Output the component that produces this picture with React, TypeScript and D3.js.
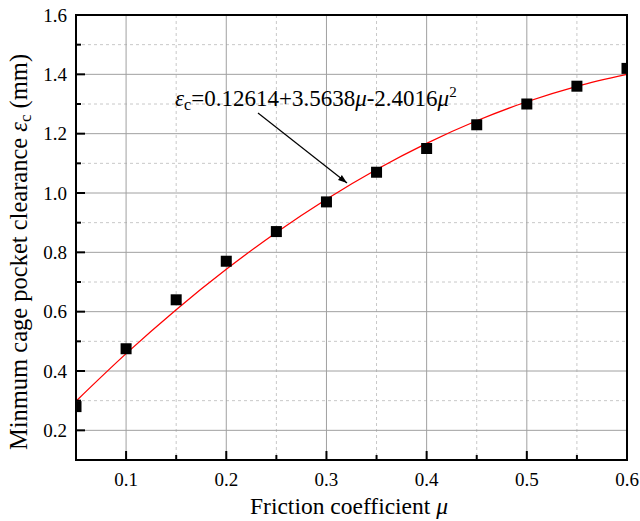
import React from "react";
import * as d3 from "d3";

const muValues = [0.05, 0.1, 0.15, 0.2, 0.25, 0.3, 0.35, 0.4, 0.45, 0.5, 0.55, 0.6];
const clearanceValues = [0.28, 0.475, 0.64, 0.77, 0.87, 0.97, 1.07, 1.15, 1.23, 1.30, 1.36, 1.42];
const fitValues = [0.2983, 0.4585, 0.6067, 0.7428, 0.867, 0.9791, 1.0793, 1.1674, 1.2435, 1.3076, 1.3598, 1.3998];
const xMajorTicks = [0.1, 0.2, 0.3, 0.4, 0.5, 0.6];
const xMinorTicks = [0.05, 0.15, 0.25, 0.35, 0.45, 0.55];
const yMajorTicks = [0.2, 0.4, 0.6, 0.8, 1.0, 1.2, 1.4, 1.6];
const yMinorTicks = [0.1, 0.3, 0.5, 0.7, 0.9, 1.1, 1.3, 1.5];

const W = 640, H = 521;
const L = 76, R = 627, T = 15, B = 460;

export default function App() {
  const x = d3.scaleLinear().domain([0.05, 0.6]).range([L, R]);
  const y = d3.scaleLinear().domain([0.1, 1.6]).range([B, T]);
  const line = d3
    .line<number>()
    .x((_, i) => x(muValues[i]))
    .y((d) => y(d))
    .curve(d3.curveMonotoneX);
  const font = "'Liberation Serif', 'Times New Roman', serif";
  const ms = 11;
  return (
    <svg width={W} height={H} style={{ position: "absolute", left: 0, top: 0 }} fontFamily={font}>
      <rect width={W} height={H} fill="#fff" />
      <defs>
        <clipPath id="plot">
          <rect x={L} y={T} width={R - L} height={B - T} />
        </clipPath>
        <marker id="arr" viewBox="0 0 10 10" refX="10" refY="5" markerWidth="9" markerHeight="9" orient="auto" markerUnits="userSpaceOnUse">
          <path d="M0,1.5 L10,5 L0,8.5 Z" fill="#000" />
        </marker>
      </defs>
      {xMinorTicks.map((t) => (
        <line key={"xm" + t} x1={x(t)} x2={x(t)} y1={T} y2={B} stroke="#c8c8c8" strokeDasharray="3,3" strokeWidth={1} />
      ))}
      {yMinorTicks.map((t) => (
        <line key={"ym" + t} x1={L} x2={R} y1={y(t)} y2={y(t)} stroke="#c8c8c8" strokeDasharray="3,3" strokeWidth={1} />
      ))}
      {xMajorTicks.map((t) => (
        <line key={"xM" + t} x1={x(t)} x2={x(t)} y1={T} y2={B} stroke="#a0a0a0" strokeWidth={1} />
      ))}
      {yMajorTicks.map((t) => (
        <line key={"yM" + t} x1={L} x2={R} y1={y(t)} y2={y(t)} stroke="#a0a0a0" strokeWidth={1} />
      ))}
      <g clipPath="url(#plot)">
        <path d={line(fitValues) || ""} fill="none" stroke="#ff0000" strokeWidth={1.3} />
        {muValues.map((m, i) => (
          <rect key={"p" + i} x={x(m) - ms / 2} y={y(clearanceValues[i]) - ms / 2} width={ms} height={ms} fill="#000" />
        ))}
      </g>
      {xMajorTicks.map((t) => (
        <line key={"xt" + t} x1={x(t)} x2={x(t)} y1={B} y2={B - 9} stroke="#000" strokeWidth={2} />
      ))}
      {xMinorTicks.map((t) => (
        <line key={"xtm" + t} x1={x(t)} x2={x(t)} y1={B} y2={B - 5} stroke="#000" strokeWidth={2} />
      ))}
      {yMajorTicks.map((t) => (
        <line key={"yt" + t} x1={L} x2={L + 9} y1={y(t)} y2={y(t)} stroke="#000" strokeWidth={2} />
      ))}
      {yMinorTicks.map((t) => (
        <line key={"ytm" + t} x1={L} x2={L + 5} y1={y(t)} y2={y(t)} stroke="#000" strokeWidth={2} />
      ))}
      <rect x={L} y={T} width={R - L} height={B - T} fill="none" stroke="#000" strokeWidth={2} />
      {xMajorTicks.map((t) => (
        <text key={"xl" + t} x={x(t)} y={486} textAnchor="middle" fontSize={19} fill="#000">
          {t.toFixed(1)}
        </text>
      ))}
      {yMajorTicks.map((t) => (
        <text key={"yl" + t} x={67} y={y(t) + 6.5} textAnchor="end" fontSize={19} fill="#000">
          {t.toFixed(1)}
        </text>
      ))}
      <text x={349} y={514} textAnchor="middle" fontSize={23.5} fill="#000">
        Friction coefficient <tspan fontStyle="italic">μ</tspan>
      </text>
      <text transform={`translate(27, 252) rotate(-90)`} textAnchor="middle" fontSize={24.5} fill="#000">
        Minmum cage pocket clearance <tspan fontStyle="italic">ε</tspan>
        <tspan fontSize={17} dy={4}>c</tspan>
        <tspan dy={-4}> (mm)</tspan>
      </text>
      <text x={175} y={106} fontSize={23} fill="#000">
        <tspan fontStyle="italic">ε</tspan>
        <tspan fontSize={16} dy={4}>c</tspan>
        <tspan dy={-4}>=0.12614+3.5638</tspan>
        <tspan fontStyle="italic">μ</tspan>
        <tspan>-2.4016</tspan>
        <tspan fontStyle="italic">μ</tspan>
        <tspan fontSize={15} dy={-9}>2</tspan>
      </text>
      <line x1={258} y1={113} x2={347} y2={183} stroke="#000" strokeWidth={1.2} markerEnd="url(#arr)" />
    </svg>
  );
}
